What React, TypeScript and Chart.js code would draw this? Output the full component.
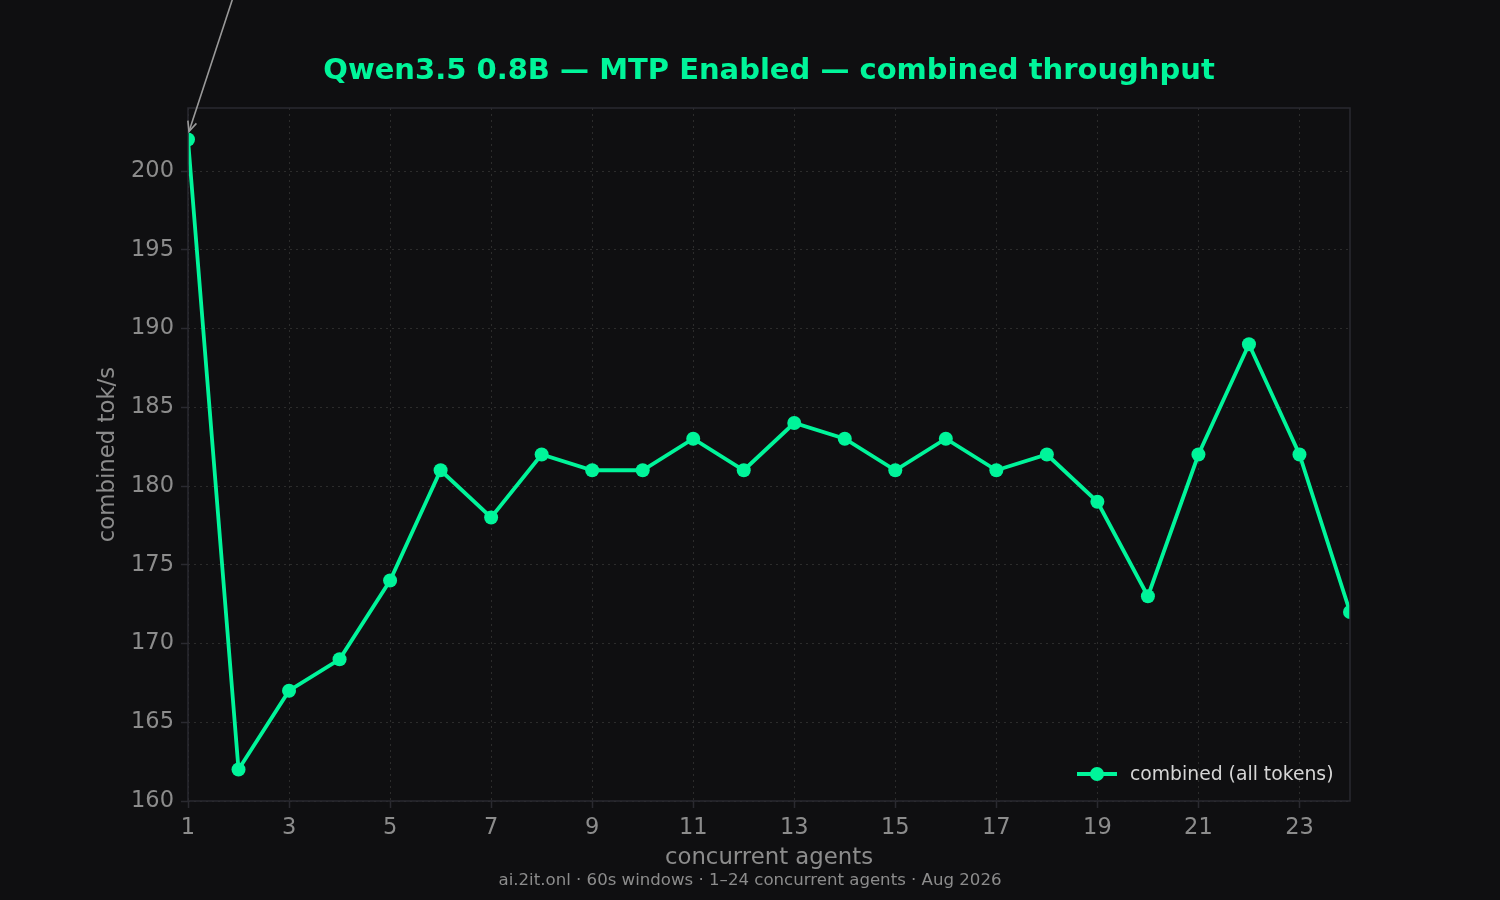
import { useEffect, useRef } from 'react';
import { Chart, registerables } from 'chart.js';

Chart.register(...registerables);

const agents = [1, 2, 3, 4, 5, 6, 7, 8, 9, 10, 11, 12, 13, 14, 15, 16, 17, 18, 19, 20, 21, 22, 23, 24];
const throughput = [202, 162, 167, 169, 174, 181, 178, 182, 181, 181, 183, 181, 184, 183, 181, 183, 181, 182, 179, 173, 182, 189, 182, 172];
const xTicks = [1, 3, 5, 7, 9, 11, 13, 15, 17, 19, 21, 23];
const yTicks = [160, 165, 170, 175, 180, 185, 190, 195, 200];

const BG = '#0f0f11';
const GREEN = '#00f59a';
const MUTED = '#8c8c8c';
const FRAME = '#2a2a30';
const FONT = '"DejaVu Sans", sans-serif';

const decorations = {
  id: 'decorations',
  beforeDraw(chart: Chart) {
    const { ctx, width, height } = chart;
    ctx.save();
    ctx.fillStyle = BG;
    ctx.fillRect(0, 0, width, height);
    ctx.restore();
  },
  afterDraw(chart: Chart) {
    const { ctx, chartArea: a } = chart;
    const cx = (a.left + a.right) / 2;
    ctx.save();

    // frame
    ctx.strokeStyle = FRAME;
    ctx.lineWidth = 1.5;
    ctx.strokeRect(a.left, a.top, a.right - a.left, a.bottom - a.top);

    // title
    ctx.fillStyle = GREEN;
    ctx.font = `bold 29px ${FONT}`;
    ctx.textAlign = 'center';
    ctx.textBaseline = 'middle';
    ctx.fillText('Qwen3.5 0.8B — MTP Enabled — combined throughput', cx, 71);

    // axis titles
    ctx.fillStyle = MUTED;
    ctx.font = `22.8px ${FONT}`;
    ctx.fillText('concurrent agents', cx, 858);
    ctx.save();
    ctx.translate(108, (a.top + a.bottom) / 2);
    ctx.rotate(-Math.PI / 2);
    ctx.fillText('combined tok/s', 0, 0);
    ctx.restore();

    // footer
    ctx.font = `16.6px ${FONT}`;
    ctx.fillText('ai.2it.onl · 60s windows · 1–24 concurrent agents · Aug 2026', 750, 881);

    // legend
    const ly = a.bottom - 27;
    const lx = a.right - 273;
    ctx.strokeStyle = GREEN;
    ctx.lineWidth = 3.8;
    ctx.beginPath();
    ctx.moveTo(lx, ly);
    ctx.lineTo(lx + 40, ly);
    ctx.stroke();
    ctx.fillStyle = GREEN;
    ctx.beginPath();
    ctx.arc(lx + 20, ly, 7, 0, Math.PI * 2);
    ctx.fill();
    ctx.fillStyle = '#d6d6d6';
    ctx.font = `18.8px ${FONT}`;
    ctx.textAlign = 'left';
    ctx.fillText('combined (all tokens)', lx + 53, ly + 1);

    // annotation arrow toward the peak at 1 agent
    const xs = chart.scales.x;
    const ys = chart.scales.y;
    const tx = xs.getPixelForValue(agents[0]) + 1;
    const ty = ys.getPixelForValue(throughput[0]) - 8;
    const sx = tx + 46;
    const sy = ty - 140;
    ctx.strokeStyle = '#9a9a9a';
    ctx.lineWidth = 1.6;
    ctx.beginPath();
    ctx.moveTo(sx, sy);
    ctx.lineTo(tx, ty);
    ctx.stroke();
    const ang = Math.atan2(ty - sy, tx - sx);
    const h = 11;
    ctx.beginPath();
    ctx.moveTo(tx - h * Math.cos(ang - 0.42), ty - h * Math.sin(ang - 0.42));
    ctx.lineTo(tx, ty);
    ctx.lineTo(tx - h * Math.cos(ang + 0.42), ty - h * Math.sin(ang + 0.42));
    ctx.stroke();

    ctx.restore();
  },
};

export default function App() {
  const chartRef = useRef<HTMLCanvasElement>(null);

  useEffect(() => {
    document.body.style.margin = '0';
    document.body.style.background = BG;
    if (!chartRef.current) return;

    const chart = new Chart(chartRef.current, {
      type: 'line',
      data: {
        labels: agents,
        datasets: [
          {
            label: 'combined (all tokens)',
            data: agents.map((a, i) => ({ x: a, y: throughput[i] })),
            borderColor: GREEN,
            backgroundColor: GREEN,
            borderWidth: 3.8,
            pointRadius: 7,
            pointBorderWidth: 0,
            pointBackgroundColor: GREEN,
            tension: 0,
            clip: 0,
          },
        ],
      },
      options: {
        responsive: false,
        animation: false,
        layout: { padding: { left: 0, right: 150, top: 108, bottom: 0 } },
        plugins: {
          legend: { display: false },
          title: { display: false },
          tooltip: { enabled: false },
        },
        scales: {
          x: {
            type: 'linear',
            min: 1,
            max: 24,
            afterBuildTicks: (s: any) => {
              s.ticks = xTicks.map((v) => ({ value: v }));
            },
            afterFit: (s: any) => {
              s.height = 99;
            },
            grid: {
              color: '#2c2c2c',
              lineWidth: 1,
              tickLength: 7,
              tickColor: FRAME,
              tickWidth: 1.5,
              tickBorderDash: [],
            },
            border: { display: false, dash: [2, 4] },
            ticks: {
              color: MUTED,
              font: { family: FONT, size: 22.5 },
              padding: 7,
              maxRotation: 0,
              callback: (v: any) => String(v),
            },
          },
          y: {
            min: 160,
            max: 204,
            afterBuildTicks: (s: any) => {
              s.ticks = yTicks.map((v) => ({ value: v }));
            },
            afterFit: (s: any) => {
              s.width = 188;
            },
            grid: {
              color: '#2c2c2c',
              lineWidth: 1,
              tickLength: 7,
              tickColor: FRAME,
              tickWidth: 1.5,
              tickBorderDash: [],
            },
            border: { display: false, dash: [2, 4] },
            ticks: {
              color: MUTED,
              font: { family: FONT, size: 22.5 },
              padding: 7,
              callback: (v: any) => String(v),
            },
          },
        },
      },
      plugins: [decorations],
    });

    return () => chart.destroy();
  }, []);

  return (
    <div style={{ width: 1500, height: 900, background: BG }}>
      <canvas ref={chartRef} width={1500} height={900} style={{ display: 'block' }} />
    </div>
  );
}
